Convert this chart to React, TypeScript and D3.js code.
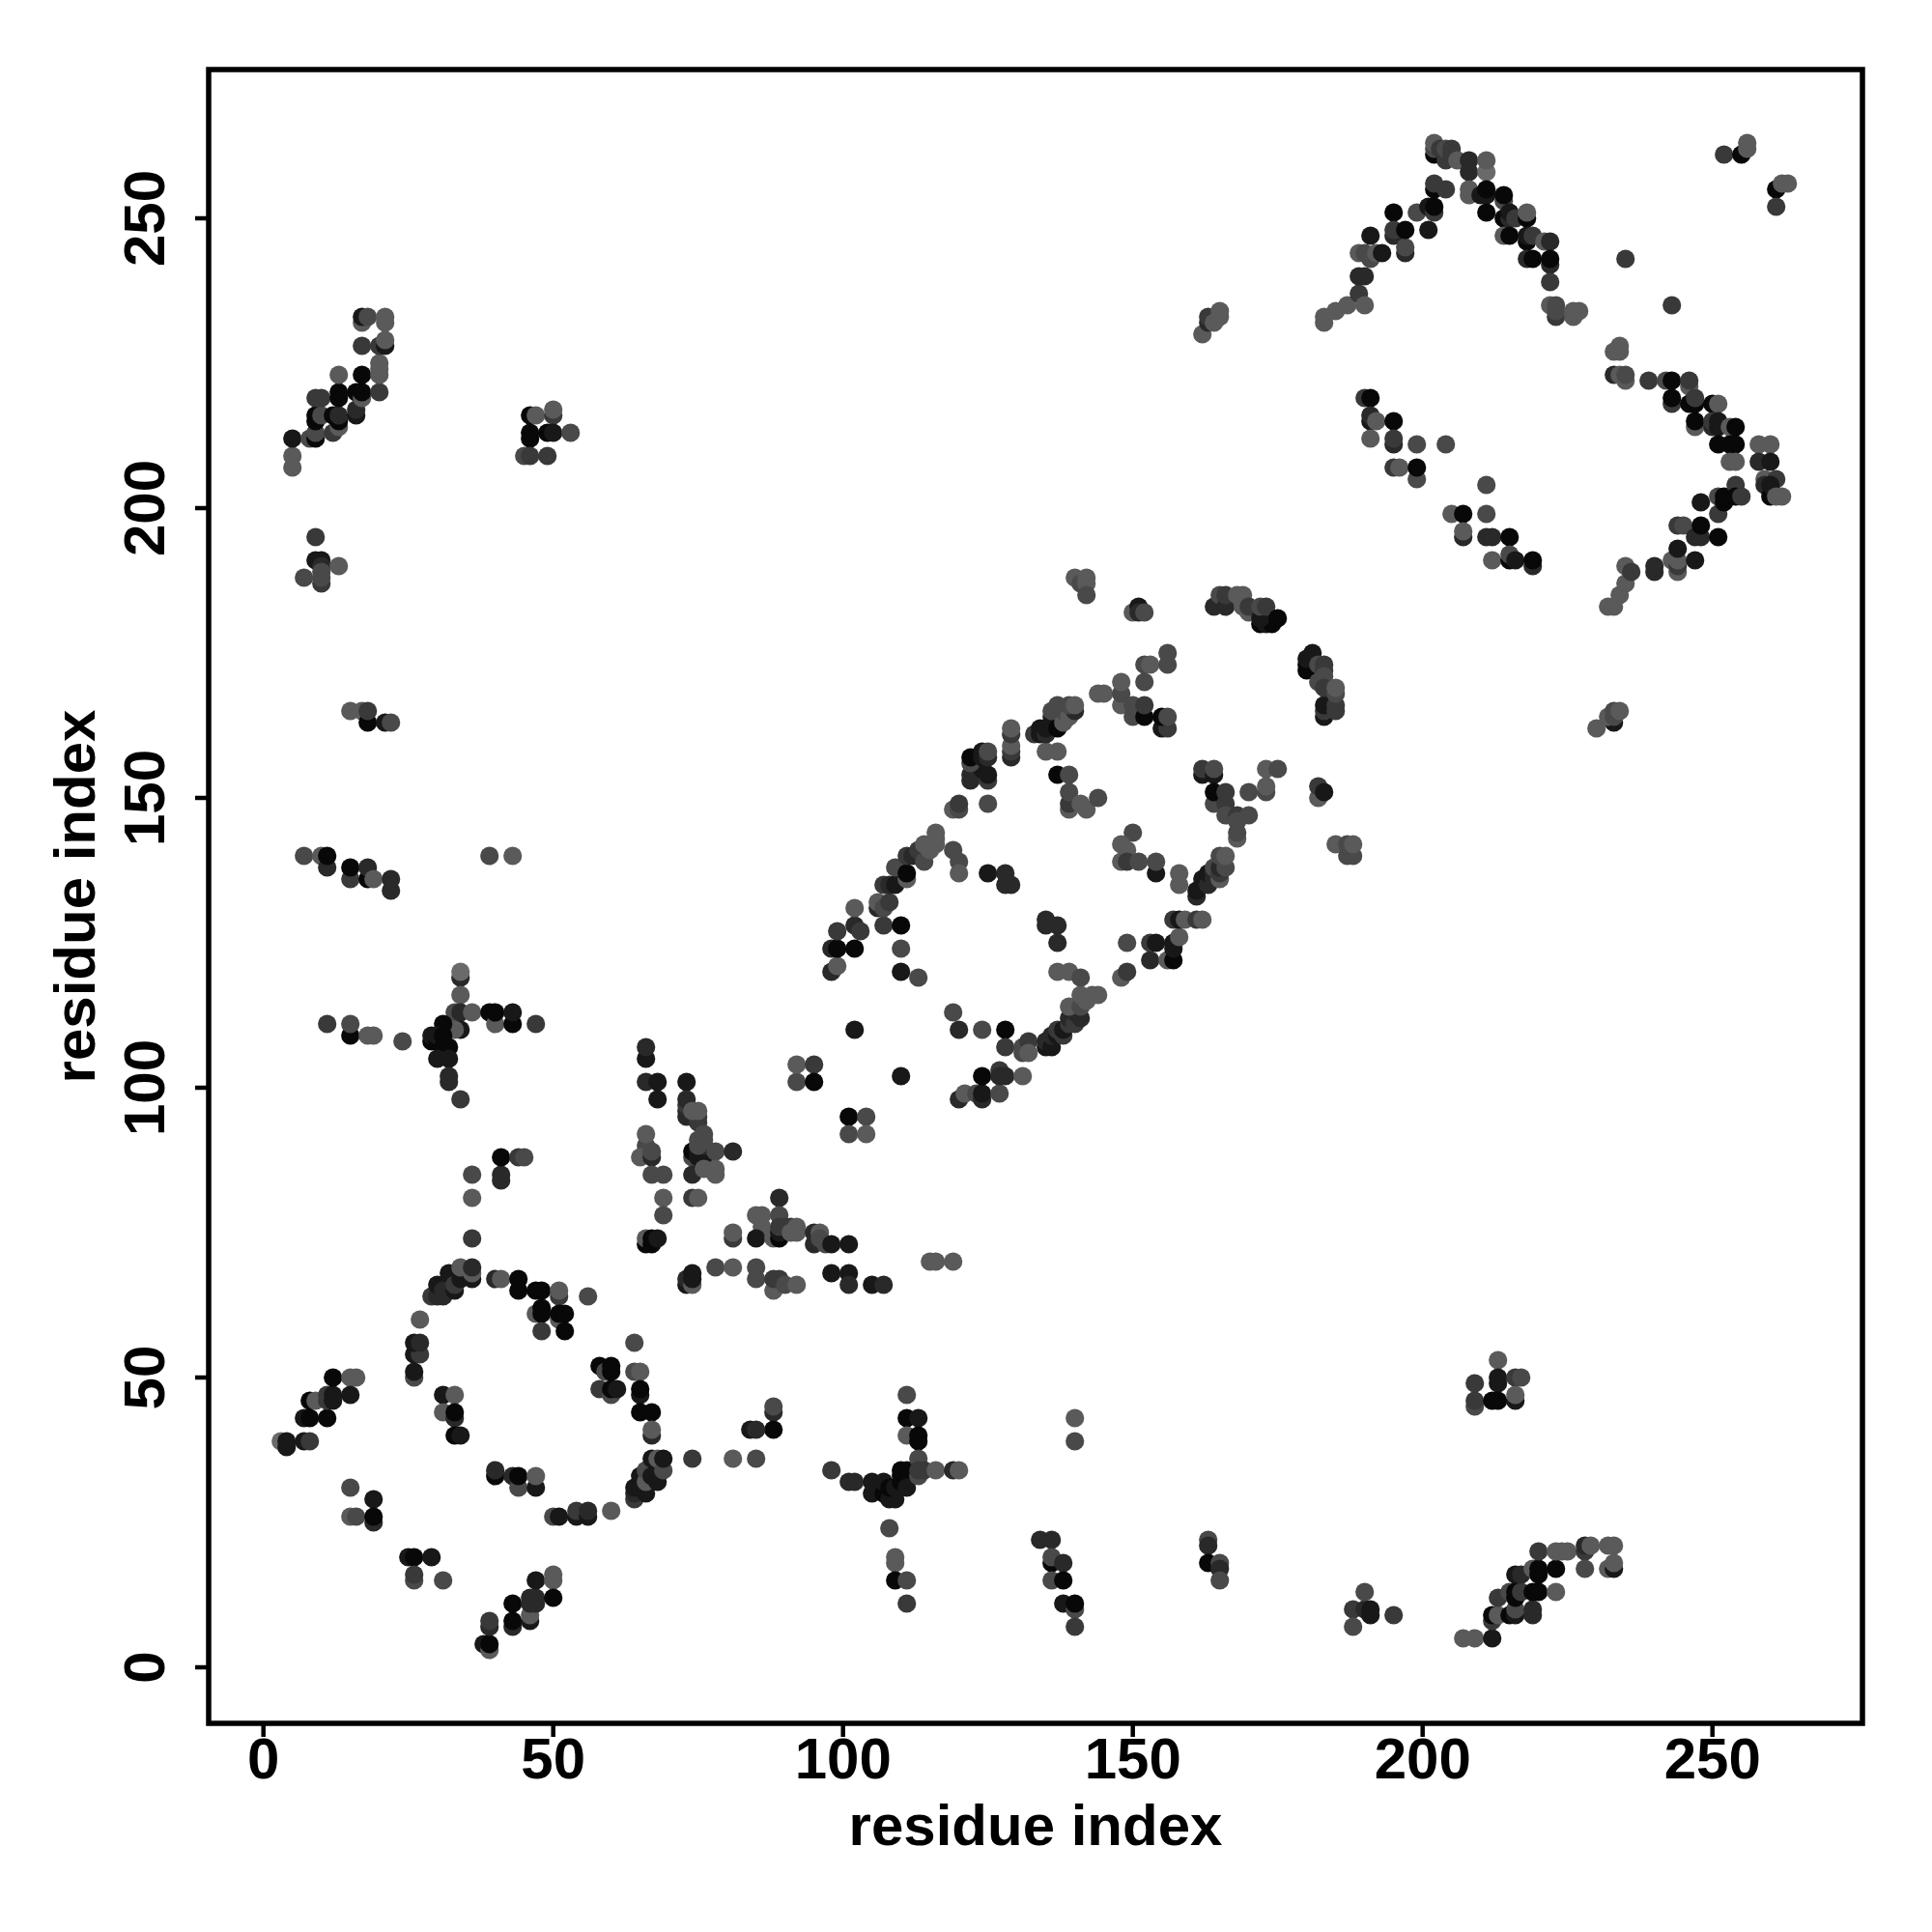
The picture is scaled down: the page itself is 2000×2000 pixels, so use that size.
import React from "react";
import * as d3 from "d3";

type P = [number, number, number];

// [residue i, residue j, shade level 0 (darkest) .. 6 (lightest)]
const lowerLeftStrand: P[] = [[3,39,6],[4,39,1],[4,38,1],[7,39,1],[8,39,3],[7,43,1],[8,43,0],[11,43,0],[8,46,0],[9,46,5],[11,47,3],[11,46,3],[12,47,1],[12,46,1],[12,50,0],[15,50,5],[16,50,5],[15,47,1],[15,31,4],[19,29,1],[15,26,5],[16,26,4],[19,25,2],[19,26,0],[25,19,1],[26,19,0],[29,19,1],[26,15,4],[26,16,3],[31,15,4]];
const bottomStrand: P[] = [[38,4,1],[39,3,5],[39,4,0],[39,7,2],[39,8,3],[43,7,2],[43,8,0],[43,11,0],[46,8,1],[46,9,5],[46,11,2],[46,12,2],[47,11,2],[47,12,2],[47,15,1],[50,15,5],[50,16,5],[50,12,0]];
const ringOne: P[] = [[27,60,5],[26,54,1],[27,54,3],[26,56,1],[27,56,2],[26,50,4],[26,51,1],[29,64,3],[30,64,2],[31,64,2],[32,66,1],[30,66,1],[31,65,2],[32,68,1],[33,65,1],[33,66,3],[34,67,1],[34,69,5],[36,67,1],[36,68,5],[36,69,2],[40,67,2],[41,67,5],[44,67,0],[44,65,0],[47,65,0],[48,65,0],[51,64,3],[51,65,5],[56,64,4],[47,61,5],[48,62,0],[48,61,0],[51,60,5],[51,61,0],[52,61,0],[48,58,3],[52,58,0],[64,56,4],[58,52,0],[59,51,4],[60,52,0],[60,51,0],[64,51,4],[65,51,5],[58,48,3],[60,47,4],[60,48,0],[61,48,1],[65,47,1],[65,48,0],[65,44,0],[67,44,0],[67,40,2],[67,41,5],[64,29,3],[64,30,2],[64,31,1],[65,31,1],[65,33,1],[66,30,1],[66,32,5],[66,34,4],[67,33,1],[67,36,1],[68,32,1],[68,36,5],[69,34,4],[69,36,1],[60,27,5],[50,26,4],[51,26,1],[54,26,1],[54,27,3],[56,26,1],[56,27,2],[40,33,0],[40,34,2],[43,33,2],[44,31,4],[44,33,0],[47,31,1],[47,33,5],[31,47,1],[33,47,5],[31,44,5],[33,43,2],[33,44,0],[33,40,0],[34,40,1]];
const middleBand: P[] = [[73,66,1],[73,67,2],[74,66,5],[74,67,1],[74,68,1],[78,69,4],[81,69,5],[85,69,4],[85,67,4],[88,65,5],[88,67,3],[89,67,3],[90,66,4],[92,66,5],[98,68,1],[101,68,1],[101,66,2],[105,66,1],[107,66,2],[115,70,5],[116,70,5],[119,70,5]];
const lowerCross: P[] = [[88,44,2],[88,45,4],[88,41,0],[84,41,1],[85,41,2],[74,36,3],[81,36,5],[85,36,4],[98,34,3],[101,32,2],[102,32,2],[105,30,1],[105,32,1],[106,31,1],[107,30,0],[107,32,1],[108,29,1],[109,29,1],[108,31,0],[109,31,1],[110,32,0],[110,33,0],[110,34,0],[111,34,0],[111,31,1],[111,47,4],[111,43,0],[113,43,1],[111,40,5],[113,39,0],[113,40,0],[113,33,4],[113,36,4],[113,34,3],[114,34,3],[116,34,5],[119,34,2],[120,34,5],[108,24,4],[109,18,5],[109,19,5],[109,15,0],[111,15,4],[111,11,3],[140,43,5],[140,39,4]];
const lowerStripe: P[] = [[134,22,2],[136,22,2],[136,18,0],[136,19,4],[138,18,2],[136,15,4],[138,15,0],[138,11,1],[140,10,4],[140,11,0],[140,7,3],[163,22,4],[163,21,2],[163,18,0],[165,18,4],[165,17,2],[165,15,4],[188,10,3],[190,10,2],[188,7,4],[190,13,4],[191,10,1],[191,9,1],[195,9,3]];
const lowerRightBlock: P[] = [[213,53,5],[209,49,3],[213,49,1],[213,50,1],[216,50,3],[217,50,4],[209,45,4],[209,46,3],[212,46,0],[213,46,0],[216,46,1],[216,47,5]];
const lowerRightStrand: P[] = [[207,5,5],[209,5,5],[212,5,1],[212,8,3],[212,9,0],[213,9,5],[215,9,0],[216,9,1],[216,10,4],[219,9,2],[219,10,2],[213,12,3],[215,13,4],[216,12,0],[216,13,0],[217,13,3],[219,13,0],[220,13,0],[223,13,5],[216,16,1],[217,16,2],[219,17,5],[220,16,0],[220,17,0],[223,17,0],[220,20,3],[223,20,5],[224,20,5],[225,20,5],[228,20,3],[228,21,2],[229,21,5],[228,17,4],[232,21,5],[233,21,5],[232,17,5],[233,17,1],[233,18,5]];
const leftColumn: P[] = [[15,165,5],[17,165,5],[18,163,0],[18,165,3],[21,163,1],[22,163,4],[7,140,4],[10,140,5],[11,138,2],[11,140,0],[15,136,3],[15,138,0],[18,136,0],[18,138,2],[19,136,5],[22,134,2],[22,136,2],[39,140,4],[43,140,5]];
const crossUpper: P[] = [[11,111,3],[15,109,0],[15,111,4],[18,109,5],[19,109,5],[24,108,4],[34,119,2],[34,120,6],[34,116,5],[33,113,4],[34,113,2],[34,110,1],[33,110,5],[36,113,5],[39,113,0],[40,111,5],[40,113,0],[43,111,0],[43,113,1],[47,111,3],[31,111,0],[29,108,0],[29,109,1],[30,108,0],[30,109,1],[31,109,0],[31,107,0],[32,107,0],[30,105,1],[32,105,1],[32,101,2],[32,102,2],[34,98,3],[41,84,2],[41,85,2],[41,88,0],[44,88,3],[45,88,4],[36,85,4],[36,81,5],[36,74,3]];
const centreLeft: P[] = [[66,105,1],[66,107,2],[66,101,2],[68,101,1],[68,98,1],[73,101,1],[73,95,2],[73,96,2],[73,97,3],[73,98,2],[75,94,3],[75,95,3],[74,96,5],[75,96,5],[66,90,4],[65,88,5],[67,88,2],[67,89,4],[66,92,5],[67,85,4],[69,85,4],[69,81,5],[69,78,4],[74,88,4],[74,89,0],[75,88,1],[75,89,1],[76,88,1],[76,90,2],[75,90,4],[75,91,4],[76,91,4],[76,92,4],[78,89,4],[81,89,2],[74,85,2],[76,86,5],[78,85,5],[78,86,5],[74,81,3],[75,81,5],[89,81,2],[85,78,5],[86,78,5],[89,78,4],[86,76,5],[85,74,1],[81,74,3],[81,75,5],[88,74,5],[89,74,0],[89,75,1],[89,76,3],[90,76,3],[91,76,3],[92,76,5],[91,75,5],[92,75,5],[95,73,2],[95,75,2],[96,75,5],[96,74,4],[97,73,4],[98,73,1],[101,73,1],[66,73,0],[66,74,5],[67,73,0],[67,74,0],[68,74,1],[92,101,4],[92,104,5],[95,104,3],[95,101,0],[101,95,0],[104,95,4],[101,92,4],[104,92,5]];
const ringTwoLower: P[] = [[102,110,1],[110,102,1],[119,113,4],[120,110,2],[124,110,4],[128,110,0],[128,107,3],[120,98,2],[121,99,5],[123,99,4],[124,98,2],[124,99,1],[127,99,4],[124,102,0],[127,103,3],[127,102,2],[128,102,2],[131,102,5],[131,106,4],[131,107,4],[132,108,3],[132,106,5],[135,107,1],[135,108,2],[136,107,1],[136,109,2],[137,109,1],[137,110,3],[138,109,3],[138,110,1],[139,111,3],[139,112,2],[140,111,3],[141,112,2],[140,113,2],[139,114,5],[141,114,4],[141,116,5],[142,115,5],[143,116,5],[144,116,5],[137,120,5],[139,120,5],[141,119,4],[148,119,5],[149,120,3],[149,125,4],[153,122,2],[156,122,5],[157,122,0],[153,125,3],[154,125,1],[157,124,1],[157,125,1],[158,126,5],[157,129,3],[158,129,1],[159,129,5],[161,129,3],[162,129,5]];
const ringTwoRight: P[] = [[161,133,2],[161,134,1],[162,135,1],[162,136,1],[163,135,2],[163,137,1],[164,137,2],[164,136,2],[165,136,5],[164,138,4],[165,137,3],[165,138,2],[165,140,4],[166,138,4],[166,140,5],[150,144,4],[148,142,5],[149,141,5],[148,139,5],[149,139,3],[151,139,4],[154,137,1],[154,139,4],[158,135,5],[158,137,5],[135,128,2],[135,129,2],[137,128,2],[137,125,2],[125,137,1],[128,137,2],[128,135,2],[129,135,2]];
const ringTwoLeft: P[] = [[98,120,2],[99,121,5],[98,124,2],[99,124,0],[102,124,0],[99,127,3],[102,128,2],[103,127,3],[102,131,5],[107,128,3],[110,128,0],[110,124,4],[110,120,1],[113,119,4],[106,131,2],[106,132,5],[107,131,4],[108,132,3],[107,135,3],[108,135,2],[109,135,1],[110,136,1],[109,138,4],[111,136,5],[111,137,0],[111,140,3],[112,140,2],[113,140,2],[113,141,3],[114,139,4],[114,142,5],[115,141,5],[116,142,5],[116,143,5],[116,144,5],[119,141,4],[120,139,4],[120,137,5]];
const ringTwoTop: P[] = [[119,148,5],[120,148,4],[120,149,3],[125,149,4],[122,153,2],[122,154,2],[124,154,2],[124,155,1],[125,153,3],[125,154,1],[122,156,4],[122,157,0],[124,157,1],[124,158,1],[125,157,2],[125,158,4],[129,157,2],[129,158,3],[129,159,5],[129,161,3],[129,162,5],[135,158,5],[137,158,5],[137,154,0],[139,154,4],[139,148,5],[139,149,3],[139,151,4],[141,149,5],[142,148,5],[144,150,4],[133,161,3],[134,161,1],[134,162,1],[135,161,2],[135,162,1],[136,164,2],[136,163,1],[137,162,0],[136,165,4],[137,166,4],[138,163,5],[138,165,4],[139,164,5],[140,165,2],[139,166,4],[140,166,5],[144,168,5],[145,168,5],[148,166,5],[148,168,4],[148,170,5],[150,164,4],[150,166,4],[152,164,0],[152,166,3],[152,170,4],[152,173,4],[153,173,5],[156,173,4],[156,175,4],[155,162,1],[156,162,3],[155,164,0],[156,164,4]];
const ringTwoOuter: P[] = [[140,188,5],[141,187,4],[142,187,5],[142,188,5],[142,185,4],[150,182,5],[151,183,1],[151,182,2],[152,182,4],[164,183,2],[165,185,4],[166,183,2],[166,185,3],[168,185,5],[169,185,5],[169,183,5],[170,182,5],[170,183,3],[172,180,0],[173,180,1],[174,180,0],[172,181,1],[172,183,4],[173,183,3],[175,181,0],[180,172,0],[180,173,0],[180,174,1],[181,175,1],[182,170,4],[182,173,4],[183,173,3],[183,172,3],[183,171,4],[183,164,1],[183,165,3],[183,166,1],[183,169,3],[185,165,3],[185,166,3],[185,168,4],[185,169,5],[182,150,5],[182,152,3],[183,151,1],[185,142,5],[187,140,4],[188,140,4],[187,142,4],[188,142,5]];
const ringTwoInner: P[] = [[162,154,1],[162,155,3],[164,154,1],[164,155,4],[173,155,5],[175,155,4],[173,151,4],[173,152,5],[170,151,4],[164,149,4],[164,151,0],[166,149,3],[166,151,3],[166,147,4],[168,147,3],[170,147,4],[168,143,5],[168,144,4],[168,146,4],[162,230,5],[163,232,2],[163,233,3],[164,232,5],[165,233,5],[165,234,5]];
const upperPeak: P[] = [[183,232,5],[183,233,5],[185,234,5],[187,235,5],[189,237,3],[190,235,5],[189,240,2],[190,240,2],[189,244,5],[190,244,4],[191,243,4],[192,244,5],[193,244,1],[191,247,1],[195,251,0],[195,247,2],[195,248,3],[197,244,2],[197,245,4],[197,248,0],[199,251,4],[201,248,1],[201,252,1],[202,251,3],[202,252,0],[202,261,0],[202,262,4],[202,263,5],[203,262,3],[204,260,3],[204,262,4],[205,261,3],[205,262,3],[206,260,5],[208,258,2],[208,260,2],[211,258,6],[211,260,5],[202,255,0],[202,256,3],[204,255,3],[208,254,5],[208,255,5],[210,254,1],[211,254,1],[211,255,0],[214,253,4],[214,254,0],[211,251,0],[214,250,0],[215,250,2],[215,251,1],[216,250,3],[218,250,0],[218,251,5],[214,247,5],[215,247,0],[218,246,0],[218,247,1],[219,247,3],[221,246,5],[222,246,2],[218,243,2],[219,243,0],[222,242,2],[222,243,0],[222,239,3],[222,235,5],[223,233,3],[223,234,4],[223,235,4],[226,233,5],[226,234,5],[227,234,5],[235,243,3],[243,235,3],[252,261,3],[255,261,0],[256,262,5],[256,263,5],[261,255,0],[262,256,5],[263,256,5],[261,252,3]];
const rightArm: P[] = [[233,227,5],[234,227,5],[234,228,5],[233,223,2],[235,222,5],[234,223,5],[235,223,4],[239,222,3],[242,222,4],[243,222,0],[246,221,5],[246,222,3],[243,218,3],[243,219,0],[246,218,0],[247,218,0],[247,219,3],[250,218,0],[251,218,5],[247,214,5],[247,215,0],[250,214,2],[250,215,3],[251,214,1],[251,215,1],[253,214,5],[254,214,0],[251,211,0],[253,211,0],[254,211,0],[258,211,5],[260,211,5],[253,208,5],[254,208,5],[258,208,2],[260,208,1],[259,205,5],[259,204,2],[261,205,3],[260,202,0],[260,204,1],[261,202,5],[262,202,5]];
const rightInner: P[] = [[190,219,3],[191,219,0],[191,215,1],[191,216,2],[192,215,5],[195,215,0],[191,212,5],[195,211,2],[195,212,3],[199,211,4],[204,211,4],[195,207,3],[196,207,5],[199,205,4],[199,207,0],[211,204,4],[205,199,5],[207,199,0],[211,199,4],[207,195,2],[207,196,5],[211,195,2],[212,195,2],[215,195,0],[212,191,5],[215,191,0],[215,192,4],[216,191,1],[219,190,2],[219,191,0]];
const rightLower: P[] = [[232,183,5],[233,183,5],[234,185,5],[235,187,5],[235,190,5],[236,189,3],[240,189,2],[240,190,2],[243,191,5],[244,189,5],[244,190,3],[244,191,5],[244,193,1],[247,191,1],[244,197,3],[245,197,4],[247,195,2],[248,195,2],[248,197,0],[251,195,0],[251,199,3],[248,201,1],[251,202,4],[252,201,0],[252,202,0],[254,204,3],[254,202,0],[255,202,3],[230,162,5],[233,163,1],[232,164,5],[233,164,4],[233,165,4],[234,165,5]];
const upperLeftStrand: P[] = [[5,207,5],[5,209,5],[5,212,1],[8,212,4],[9,212,0],[9,213,4],[12,213,3],[9,215,0],[9,216,0],[10,216,4],[12,216,0],[13,214,5],[13,215,0],[13,216,2],[16,216,1],[16,217,2],[9,219,3],[10,219,3],[13,219,0],[13,220,0],[16,220,0],[17,219,5],[17,220,0],[20,220,3],[13,223,5],[17,223,0],[20,223,5],[20,224,5],[20,225,5],[17,228,3],[20,228,3],[21,228,1],[21,229,5],[17,232,5],[17,233,1],[18,233,4],[21,232,5],[21,233,5]];
const upperLeftBlock: P[] = [[46,216,0],[47,216,5],[50,216,3],[50,217,5],[46,212,0],[46,213,0],[49,213,0],[50,213,1],[53,213,4],[45,209,4],[46,209,3],[49,209,3],[9,195,3],[9,191,1],[10,191,1],[10,190,2],[13,190,5],[7,188,4],[10,187,3],[10,188,4],[10,189,4]];

const allPoints: P[] = [
  ...lowerLeftStrand, ...bottomStrand, ...ringOne, ...middleBand, ...lowerCross, ...lowerStripe,
  ...lowerRightBlock, ...lowerRightStrand, ...leftColumn, ...crossUpper, ...centreLeft,
  ...ringTwoLower, ...ringTwoRight, ...ringTwoLeft, ...ringTwoTop, ...ringTwoOuter, ...ringTwoInner,
  ...upperPeak, ...rightArm, ...rightInner, ...rightLower, ...upperLeftStrand, ...upperLeftBlock,
];

const tickValues = [0, 50, 100, 150, 200, 250];
const axisTitle = "residue index";

export default function App() {
  const x = d3.scaleLinear().domain([0, 250]).range([272.7, 1772.7]);
  const y = d3.scaleLinear().domain([0, 250]).range([1726, 226]);
  const shade = d3.scaleLinear<number>().domain([0, 6]).range([8, 106]);
  const font = "'Liberation Sans', Arial, sans-serif";
  const box = { l: 216, r: 1928, t: 72, b: 1784 };
  return (
    <svg width={2000} height={2000} style={{ position: "absolute", left: 0, top: 0, display: "block", background: "#fff" }}>
      {allPoints.map(([a, b, s], i) => {
        const g = Math.round(shade(s));
        return <circle key={i} cx={x(a)} cy={y(b)} r={9.6} fill={`rgb(${g},${g},${g})`} />;
      })}
      <rect x={box.l} y={box.t} width={box.r - box.l} height={box.b - box.t} fill="none" stroke="#000" strokeWidth={5.5} />
      <g fontFamily={font} fontWeight="bold" fontSize={60} fill="#000">
        {tickValues.map((t) => (
          <g key={t}>
            <line x1={x(t)} x2={x(t)} y1={box.b} y2={box.b + 14} stroke="#000" strokeWidth={4.5} />
            <text x={x(t)} y={1841} textAnchor="middle">{t}</text>
            <line x1={box.l} x2={box.l - 14} y1={y(t)} y2={y(t)} stroke="#000" strokeWidth={4.5} />
            <text transform={`translate(170,${y(t)}) rotate(-90)`} textAnchor="middle">{t}</text>
          </g>
        ))}
        <text x={(box.l + box.r) / 2} y={1910} textAnchor="middle">{axisTitle}</text>
        <text transform={`translate(98,${(box.t + box.b) / 2}) rotate(-90)`} textAnchor="middle">{axisTitle}</text>
      </g>
    </svg>
  );
}
